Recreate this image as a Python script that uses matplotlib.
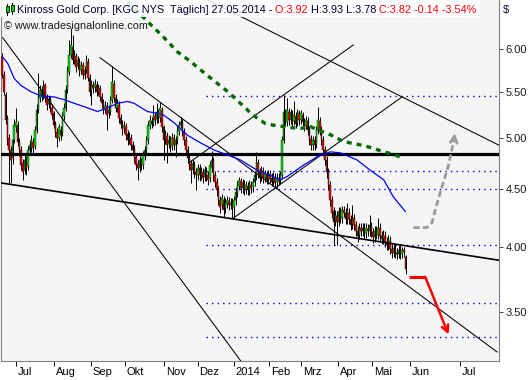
import matplotlib
matplotlib.use("Agg")
import matplotlib.pyplot as plt
import matplotlib.transforms as mtransforms
from matplotlib.patches import Rectangle
from matplotlib.text import Annotation
from matplotlib.ticker import FixedLocator, NullLocator, FuncFormatter

plt.rcParams["font.family"] = ["Liberation Sans", "DejaVu Sans"]

# daily bars, 19.06.2013 .. 27.05.2014 (x = bar number)
opens = [
    5.90, 5.69, 5.46, 5.21, 5.00, 4.88, 4.80, 4.98, 5.11, 5.14,
    4.96, 4.88, 4.75, 4.68, 4.78, 4.72, 4.88, 4.90, 4.96, 4.92,
    5.08, 5.30, 5.43, 5.52, 5.46, 5.57, 5.43, 5.36, 5.41, 5.32,
    5.26, 5.15, 5.06, 5.00, 5.08, 5.05, 5.23, 5.32, 5.52, 5.73,
    5.93, 6.03, 5.87, 5.92, 5.80, 5.85, 5.75, 5.81, 5.69, 5.75,
    5.85, 5.66, 5.52, 5.57, 5.55, 5.58, 5.50, 5.54, 5.44, 5.38,
    5.30, 5.34, 5.26, 5.28, 5.41, 5.59, 5.43, 5.32, 5.35, 5.21,
    5.15, 5.10, 5.12, 5.04, 4.99, 5.00, 4.93, 4.89, 4.81, 4.74,
    4.70, 4.76, 4.73, 4.82, 4.88, 4.98, 5.13, 5.18, 5.16, 5.23,
    5.20, 5.27, 5.21, 5.30, 5.11, 4.98, 5.02, 4.94, 4.98, 4.92,
    5.00, 4.93, 4.98, 5.07, 5.14, 5.16, 5.06, 4.98, 4.88, 4.80,
    4.74, 4.68, 4.73, 4.66, 4.63, 4.70, 4.63, 4.66, 4.62, 4.67,
    4.63, 4.61, 4.70, 4.78, 4.63, 4.57, 4.49, 4.40, 4.36, 4.40,
    4.33, 4.37, 4.39, 4.36, 4.38, 4.34, 4.40, 4.47, 4.53, 4.58,
    4.51, 4.55, 4.50, 4.53, 4.49, 4.54, 4.52, 4.57, 4.63, 4.75,
    4.66, 4.62, 4.67, 4.61, 4.63, 4.59, 4.64, 4.61, 4.57, 4.61,
    4.57, 4.61, 4.59, 4.63, 4.98, 5.27, 5.17, 5.28, 5.19, 5.26,
    5.18, 5.23, 5.16, 5.26, 5.19, 5.24, 5.17, 5.13, 5.18, 5.08,
    4.99, 4.93, 4.98, 4.94, 5.08, 5.18, 5.08, 4.98, 4.88, 4.78,
    4.66, 4.54, 4.40, 4.30, 4.21, 4.26, 4.21, 4.30, 4.24, 4.31,
    4.29, 4.23, 4.29, 4.23, 4.19, 4.24, 4.18, 4.13, 4.10, 4.16,
    4.13, 4.16, 4.11, 4.15, 4.13, 4.17, 4.12, 4.08, 4.13, 4.10,
    4.16, 4.09, 4.06, 4.09, 4.04, 4.01, 4.05, 3.98, 3.95, 3.98,
    3.95, 3.94, 3.97, 3.94, 3.97, 3.92,
]
closes = [
    5.69, 5.50, 5.19, 4.98, 4.88, 4.78, 4.98, 5.14, 5.17, 4.96,
    4.88, 4.73, 4.66, 4.78, 4.70, 4.88, 4.93, 4.98, 4.90, 5.08,
    5.30, 5.44, 5.52, 5.45, 5.58, 5.43, 5.35, 5.41, 5.32, 5.24,
    5.14, 5.05, 5.00, 5.11, 5.03, 5.24, 5.32, 5.52, 5.75, 5.93,
    6.05, 5.87, 5.93, 5.78, 5.87, 5.73, 5.81, 5.69, 5.75, 5.87,
    5.66, 5.50, 5.58, 5.54, 5.59, 5.50, 5.54, 5.44, 5.37, 5.30,
    5.34, 5.24, 5.30, 5.41, 5.61, 5.43, 5.32, 5.37, 5.21, 5.15,
    5.08, 5.13, 5.03, 4.98, 5.01, 4.93, 4.88, 4.80, 4.73, 4.70,
    4.78, 4.73, 4.83, 4.88, 4.98, 5.14, 5.19, 5.15, 5.24, 5.19,
    5.28, 5.21, 5.32, 5.11, 4.98, 5.03, 4.93, 4.98, 4.91, 5.00,
    4.93, 4.98, 5.08, 5.14, 5.17, 5.06, 4.98, 4.88, 4.80, 4.73,
    4.68, 4.75, 4.66, 4.63, 4.70, 4.63, 4.66, 4.61, 4.68, 4.63,
    4.59, 4.73, 4.78, 4.63, 4.57, 4.49, 4.40, 4.34, 4.42, 4.31,
    4.38, 4.40, 4.36, 4.38, 4.33, 4.40, 4.48, 4.54, 4.59, 4.51,
    4.56, 4.49, 4.54, 4.49, 4.55, 4.51, 4.57, 4.63, 4.76, 4.66,
    4.61, 4.68, 4.61, 4.64, 4.59, 4.64, 4.60, 4.57, 4.62, 4.56,
    4.61, 4.58, 4.63, 4.98, 5.28, 5.17, 5.30, 5.19, 5.27, 5.17,
    5.24, 5.15, 5.27, 5.19, 5.26, 5.17, 5.12, 5.19, 5.08, 4.98,
    4.93, 4.98, 4.93, 5.08, 5.19, 5.08, 4.98, 4.88, 4.78, 4.66,
    4.54, 4.40, 4.29, 4.21, 4.27, 4.21, 4.30, 4.24, 4.31, 4.29,
    4.23, 4.30, 4.23, 4.18, 4.24, 4.18, 4.13, 4.09, 4.16, 4.13,
    4.16, 4.11, 4.16, 4.13, 4.18, 4.12, 4.08, 4.13, 4.10, 4.16,
    4.09, 4.06, 4.10, 4.04, 4.01, 4.06, 3.98, 3.95, 3.99, 3.95,
    3.94, 3.97, 3.94, 3.97, 3.96, 3.82,
]
highs = [
    5.95, 5.74, 5.50, 5.24, 5.04, 4.92, 5.02, 5.20, 5.32, 5.18,
    5.00, 4.92, 4.79, 4.83, 4.82, 4.92, 4.98, 5.03, 5.00, 5.12,
    5.36, 5.72, 5.58, 5.56, 5.63, 5.60, 5.47, 5.46, 5.45, 5.36,
    5.29, 5.18, 5.10, 5.15, 5.12, 5.28, 5.37, 5.57, 5.80, 6.12,
    6.27, 6.18, 5.99, 5.96, 5.92, 5.89, 5.86, 5.85, 5.80, 5.93,
    5.89, 5.70, 5.63, 5.62, 5.64, 5.62, 5.59, 5.58, 5.48, 5.42,
    5.39, 5.38, 5.35, 5.45, 5.80, 5.63, 5.47, 5.42, 5.39, 5.25,
    5.19, 5.18, 5.16, 5.08, 5.06, 5.04, 4.97, 4.93, 4.85, 4.78,
    4.82, 4.80, 4.87, 4.92, 5.02, 5.18, 5.24, 5.22, 5.35, 5.27,
    5.37, 5.31, 5.38, 5.33, 5.14, 5.08, 5.06, 5.03, 5.02, 5.05,
    5.04, 5.02, 5.12, 5.18, 5.22, 5.20, 5.10, 5.02, 4.92, 4.84,
    4.78, 4.79, 4.77, 4.70, 4.74, 4.74, 4.71, 4.70, 4.72, 4.71,
    4.67, 4.77, 4.87, 4.81, 4.67, 4.61, 4.53, 4.44, 4.46, 4.44,
    4.42, 4.44, 4.43, 4.42, 4.42, 4.44, 4.52, 4.58, 4.62, 4.61,
    4.60, 4.59, 4.58, 4.57, 4.59, 4.58, 4.61, 4.67, 4.86, 4.79,
    4.70, 4.72, 4.71, 4.68, 4.67, 4.68, 4.68, 4.65, 4.66, 4.65,
    4.65, 4.65, 4.67, 5.02, 5.46, 5.31, 5.43, 5.32, 5.31, 5.30,
    5.39, 5.27, 5.31, 5.30, 5.30, 5.28, 5.21, 5.23, 5.22, 5.12,
    5.03, 5.02, 5.02, 5.12, 5.33, 5.22, 5.12, 5.02, 4.92, 4.82,
    4.70, 4.58, 4.44, 4.34, 4.31, 4.30, 4.34, 4.34, 4.35, 4.35,
    4.33, 4.38, 4.33, 4.27, 4.36, 4.28, 4.22, 4.17, 4.20, 4.20,
    4.20, 4.20, 4.20, 4.19, 4.27, 4.21, 4.16, 4.17, 4.17, 4.24,
    4.20, 4.13, 4.14, 4.13, 4.08, 4.10, 4.09, 4.02, 4.03, 4.02,
    3.99, 4.01, 4.01, 4.00, 4.00, 3.93,
]
lows = [
    5.66, 5.46, 5.15, 4.93, 4.56, 4.56, 4.74, 4.95, 5.06, 4.92,
    4.82, 4.68, 4.59, 4.64, 4.63, 4.68, 4.84, 4.86, 4.85, 4.89,
    5.05, 5.26, 5.38, 5.40, 5.42, 5.38, 5.30, 5.32, 5.27, 5.20,
    5.10, 5.01, 4.91, 4.97, 4.98, 5.02, 5.19, 5.29, 5.48, 5.69,
    5.89, 5.82, 5.82, 5.73, 5.76, 5.68, 5.70, 5.64, 5.65, 5.71,
    5.62, 5.45, 5.35, 5.49, 5.50, 5.45, 5.46, 5.39, 5.32, 5.25,
    5.26, 5.08, 5.21, 5.24, 5.37, 5.38, 5.27, 5.28, 5.16, 5.10,
    5.03, 5.05, 4.98, 4.93, 4.94, 4.88, 4.83, 4.75, 4.68, 4.59,
    4.66, 4.68, 4.69, 4.78, 4.84, 4.94, 5.09, 5.10, 5.12, 5.14,
    5.16, 5.16, 5.17, 5.06, 4.78, 4.94, 4.75, 4.90, 4.86, 4.88,
    4.88, 4.81, 4.94, 5.03, 5.10, 5.02, 4.93, 4.83, 4.75, 4.68,
    4.56, 4.64, 4.61, 4.49, 4.59, 4.58, 4.59, 4.56, 4.58, 4.58,
    4.54, 4.57, 4.66, 4.58, 4.52, 4.44, 4.36, 4.29, 4.32, 4.25,
    4.29, 4.33, 4.31, 4.32, 4.24, 4.24, 4.36, 4.43, 4.49, 4.47,
    4.47, 4.45, 4.46, 4.45, 4.45, 4.47, 4.48, 4.53, 4.59, 4.61,
    4.56, 4.58, 4.56, 4.57, 4.55, 4.55, 4.56, 4.53, 4.53, 4.52,
    4.51, 4.54, 4.55, 4.60, 4.95, 5.12, 5.13, 5.14, 5.15, 5.12,
    5.14, 5.10, 5.12, 5.14, 5.15, 5.12, 5.07, 5.09, 5.03, 4.93,
    4.88, 4.88, 4.88, 4.90, 5.04, 5.03, 4.93, 4.83, 4.73, 4.61,
    4.49, 4.35, 4.24, 4.01, 4.17, 4.01, 4.17, 4.20, 4.20, 4.25,
    4.19, 4.19, 4.19, 4.14, 4.15, 4.14, 4.09, 4.04, 4.06, 4.09,
    4.09, 4.07, 4.07, 4.09, 4.09, 4.08, 4.03, 4.04, 4.06, 4.06,
    4.05, 4.02, 4.02, 4.00, 3.97, 3.97, 3.94, 3.91, 3.92, 3.91,
    3.90, 3.91, 3.90, 3.91, 3.92, 3.78,
]

# moving averages
ma_short_x = [0, 3.2, 7.0, 10.9, 16.7, 22.6, 30.3, 36.1, 41.9, 49.7, 55.5, 61.3, 67.2,
              73.0, 76.8, 84.6, 90.4, 94.2, 100.1, 107.8, 115.6, 123.3, 131.1, 138.8,
              148.5, 156.3, 162.1, 166.0, 175.6, 185.3, 191.2, 197.0, 206.7, 214.4,
              222.2, 227.9, 234.8]
ma_short_y = [5.91, 5.83, 5.65, 5.57, 5.50, 5.45, 5.44, 5.41, 5.37, 5.32, 5.28, 5.32, 5.37,
              5.39, 5.37, 5.28, 5.26, 5.24, 5.16, 5.03, 4.95, 4.88, 4.83, 4.78,
              4.68, 4.63, 4.59, 4.62, 4.73, 4.83, 4.86, 4.85, 4.78, 4.68,
              4.59, 4.43, 4.30]
ma_long_x = [73.0, 87.5, 94.1, 102.0, 109.8, 114.4, 121.8, 130.1, 134.8, 142.7, 144.7,
             148.5, 153.4, 159.2, 167.9, 173.7, 179.5, 184.2, 189.2, 194.1, 198.0,
             202.8, 208.6, 213.3, 217.3, 222.0, 227.0, 231.9]
ma_long_y = [6.62, 6.29, 6.15, 5.97, 5.85, 5.77, 5.65, 5.52, 5.44, 5.30, 5.26,
             5.21, 5.15, 5.13, 5.11, 5.10, 5.12, 5.08, 5.05, 5.01, 4.97,
             4.95, 4.93, 4.91, 4.89, 4.86, 4.84, 4.81]

# trend lines: (x0, y0, x1, y1)
trend_lines = [
    (0.3, 6.145, 139.0, 3.163),
    (57.0, 5.897, 288.3, 3.222),
    (119.7, 6.639, 289.4, 4.927),
    (108.6, 4.750, 204.5, 6.053),
    (134.8, 4.244, 233.0, 5.442),
]
support_line = (-0.7, 4.560, 289.4, 3.890)
horizontal_level = 4.84
dotted_levels = [5.45, 4.67, 4.50, 4.01, 3.56, 3.32]
dotted_start = 118.5

# scenario arrows
up_x = [239.6, 247.4, 250.3, 252.2, 256.1, 259.7, 263.2]
up_y = [4.16, 4.16, 4.20, 4.31, 4.52, 4.71, 4.98]
up_tip = (263.9, 5.08)
down_x = [236.7, 246.4]
down_y = [3.76, 3.76]
down_tip = (260.0, 3.34)

month_pos = [8.0, 29.9, 51.6, 71.4, 94.1, 113.8, 134.8, 155.7, 174.3, 195.8, 215.6, 237.7, 266.7]
month_labels = ["Jul", "Aug", "Sep", "Okt", "Nov", "Dez", "2014", "Feb", "Mrz", "Apr", "Mai", "Jun", "Jul"]
price_ticks = [3.5, 4.0, 4.5, 5.0, 5.5, 6.0]

fig = plt.figure(figsize=(5.3, 3.8), dpi=100)
ax = fig.add_axes([1 / 530, 19 / 380, 498 / 530, 361 / 380])
ax.set_facecolor("#f5f5f5")
ax.set_yscale("log")
ax.set_xlim(-0.7, 289.4)
ax.set_ylim(3.163, 6.639)

# dotted support / resistance levels
for lvl in dotted_levels:
    ax.plot([dotted_start, 289.4], [lvl, lvl], color="#0000ff", lw=1.0,
            linestyle=(0, (1.0, 3.0)), zorder=1)

# trend lines
for x0, y0, x1, y1 in trend_lines:
    ax.plot([x0, x1], [y0, y1], color="black", lw=0.75, zorder=5)
ax.plot([support_line[0], support_line[2]], [support_line[1], support_line[3]],
        color="black", lw=1.2, zorder=5)
ax.axhline(horizontal_level, color="black", lw=2.3, zorder=5)

# candles
bars = list(range(len(closes)))
colors = ["#00e600" if c >= o else "#ee0000" for o, c in zip(opens, closes)]
bottoms = [min(o, c) for o, c in zip(opens, closes)]
heights = [max(abs(c - o), 0.005) for o, c in zip(opens, closes)]
ax.vlines(bars, lows, highs, color="black", lw=0.7, zorder=3)
ax.bar(bars, heights, bottom=bottoms, width=0.85, color=colors,
       edgecolor="black", linewidth=0.3, zorder=4)

# moving averages
ax.plot(ma_short_x, ma_short_y, color="#0000ff", lw=0.9, zorder=6)
ax.plot(ma_long_x, ma_long_y, color="#006a00", lw=2.4,
        linestyle=(0, (1.5, 1.5)), zorder=6)

# scenario arrows
ax.plot(up_x, up_y, color="#9a9a9a", lw=2.0, linestyle=(0, (2.2, 1.2)), zorder=6)
ax.annotate("", xy=up_tip, xytext=(up_x[-1], up_y[-1]),
            arrowprops=dict(arrowstyle="->", color="#9a9a9a", lw=2.0,
                            linestyle=(0, (2.2, 1.2)), mutation_scale=12), zorder=6)
ax.plot(down_x, down_y, color="#ff0000", lw=2.2, solid_capstyle="butt", zorder=6)
ax.annotate("", xy=down_tip, xytext=(down_x[-1], down_y[-1]),
            arrowprops=dict(arrowstyle="->", color="#ff0000", lw=1.8,
                            mutation_scale=12, shrinkA=0, shrinkB=0), zorder=6)

# axes styling
for side in ["left", "right", "bottom"]:
    ax.spines[side].set_color("#808080")
ax.spines["top"].set_visible(False)

ax.yaxis.set_major_locator(FixedLocator(price_ticks))
ax.yaxis.set_minor_locator(NullLocator())
ax.yaxis.set_major_formatter(FuncFormatter(lambda v, p: "%.2f" % v))
ax.yaxis.tick_right()
ax.tick_params(axis="y", which="both", length=3, width=0.7, color="#404040",
               labelsize=8, labelcolor="#1a1a1a", pad=1.5)

ax.set_xticks(month_pos)
ax.set_xticklabels(month_labels)
ax.xaxis.set_minor_locator(NullLocator())
ax.tick_params(axis="x", length=3.5, width=0.7, color="black", labelsize=8,
               labelcolor="black", pad=0.5)
shift = mtransforms.ScaledTranslation(0.02, 0, fig.dpi_scale_trans)
for lab in ax.get_xticklabels():
    lab.set_ha("left")
    lab.set_transform(lab.get_transform() + shift)

# header box and text
fig.patches.append(Rectangle((0, 1 - 17 / 380), 480 / 530, 17 / 380, transform=fig.transFigure,
                             facecolor="white", edgecolor="none", alpha=0.85, zorder=10))
for cx, top, bot in [(7, 4, 15), (12, 3, 14)]:
    fig.lines.append(plt.Line2D([cx / 530, cx / 530], [1 - top / 380, 1 - bot / 380],
                                transform=fig.transFigure, color="black", lw=0.8, zorder=11))
    fig.patches.append(Rectangle(((cx - 1.5) / 530, 1 - (bot - 3) / 380), 3 / 530, 6 / 380,
                                 transform=fig.transFigure, facecolor="#00e000",
                                 edgecolor="black", lw=0.6, zorder=12))

ty = 1 - 10 / 380
header = [
    ("Kinross Gold Corp. [KGC NYS  Täglich] 27.05.2014 - ", "#000033"),
    ("O:3.92 ", "#ff0000"),
    ("H:3.93 L:3.78 ", "#000033"),
    ("C:3.82 -0.14 -3.54%", "#ff0000"),
]
prev = fig.text(17 / 530, ty, header[0][0], color=header[0][1], fontsize=7.8,
                va="center", ha="left", zorder=13)
for s, col in header[1:]:
    prev = fig.add_artist(Annotation(s, xy=(1, 0), xycoords=prev, va="bottom", ha="left",
                                     color=col, fontsize=7.8, annotation_clip=False,
                                     zorder=13))
fig.text(4 / 530, 1 - 26 / 380, "\u00a9 www.tradesignalonline.com", color="#1a1a1a",
         fontsize=7.8, va="center", ha="left", zorder=13)
fig.text(503 / 530, ty, "$", color="#000033", fontsize=8, va="center", ha="left")

fig.savefig("out.png", dpi=100)
